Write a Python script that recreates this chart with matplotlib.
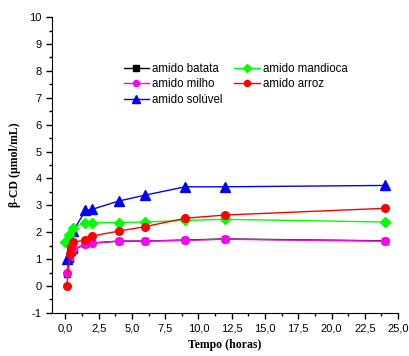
import matplotlib
matplotlib.use("Agg")
import matplotlib.pyplot as plt
from matplotlib.ticker import MultipleLocator, FuncFormatter

# tempos de coleta (h) e concentração de beta-CD (umol/mL)
t_batata = [0.1, 0.33, 0.5, 0.67, 1.5, 2, 4, 6, 9, 12, 24]
cd_batata = [0.45, 1.0, 1.25, 1.35, 1.57, 1.60, 1.67, 1.67, 1.71, 1.75, 1.68]

t_milho = [0.1, 0.25, 0.45, 0.6, 1.5, 2, 4, 6, 9, 12, 24]
cd_milho = [0.47, 1.03, 1.27, 1.36, 1.55, 1.59, 1.67, 1.67, 1.70, 1.74, 1.67]

t_soluvel = [0.1, 0.3, 0.6, 1.5, 2, 4, 6, 9, 12, 24]
cd_soluvel = [1.02, 1.88, 2.05, 2.81, 2.85, 3.16, 3.38, 3.69, 3.69, 3.74]

t_mandioca = [0.0, 0.25, 0.55, 1.5, 2, 4, 6, 9, 12, 24]
cd_mandioca = [1.65, 1.90, 2.15, 2.36, 2.36, 2.36, 2.38, 2.44, 2.48, 2.38]

t_arroz = [0.1, 0.35, 0.45, 0.58, 1.5, 2, 4, 6, 9, 12, 24]
cd_arroz = [0.0, 1.18, 1.44, 1.64, 1.70, 1.86, 2.04, 2.21, 2.52, 2.64, 2.89]

fig = plt.figure(figsize=(4.10, 3.56), dpi=100)
ax = fig.add_axes([0.127, 0.121, 0.844, 0.831])

ax.plot(t_batata, cd_batata, c='k', marker='s', ms=5, lw=1, label='amido batata')
ax.plot(t_milho, cd_milho, c='#ff00ff', marker='o', ms=5.5, lw=1, label='amido milho')
ax.plot(t_soluvel, cd_soluvel, c='#0000ff', marker='^', ms=6.5, lw=1, label='amido solúvel')
ax.plot(t_mandioca, cd_mandioca, c='#00ff00', marker='D', ms=5, lw=1, label='amido mandioca')
ax.plot(t_arroz, cd_arroz, c='#ff0000', marker='o', ms=5.5, lw=1, label='amido arroz')

ax.set_xlim(-1, 25)
ax.set_ylim(-1, 10)
ax.xaxis.set_major_locator(MultipleLocator(2.5))
ax.xaxis.set_minor_locator(MultipleLocator(1.25))
ax.yaxis.set_major_locator(MultipleLocator(1))
ax.yaxis.set_minor_locator(MultipleLocator(0.5))
ax.xaxis.set_major_formatter(FuncFormatter(lambda v, p: ('%.1f' % v).replace('.', ',')))
ax.yaxis.set_major_formatter(FuncFormatter(lambda v, p: '%d' % round(v)))

for s in ['top', 'right']:
    ax.spines[s].set_visible(False)
ax.tick_params(which='major', direction='out', length=4, width=1,
               labelsize=8, labelfontfamily='Liberation Sans')
ax.tick_params(which='minor', direction='out', length=2, width=1)

ax.set_xlabel('Tempo (horas)', family='Liberation Serif', weight='bold', fontsize=8.5)
ax.set_ylabel('β-CD (µmol/mL)', family='Liberation Serif', weight='bold', fontsize=8.5,
              labelpad=6)

ax.legend(ncol=2, loc='upper left', bbox_to_anchor=(0.19, 0.865), frameon=False,
          prop={'family': 'Liberation Sans', 'size': 8.3}, handlelength=2.2,
          handletextpad=0.3, columnspacing=1.0, labelspacing=0.32, borderpad=0,
          markerscale=0.8)

fig.savefig('out.png', dpi=100)
